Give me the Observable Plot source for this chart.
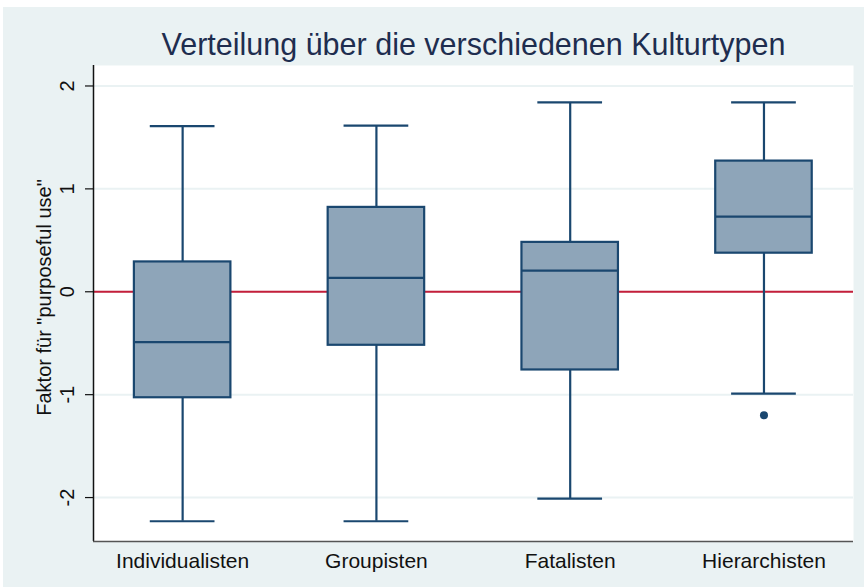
<!DOCTYPE html>
<html><head><meta charset="utf-8">
<script src="https://cdn.jsdelivr.net/npm/d3@7"></script>
<script src="https://cdn.jsdelivr.net/npm/@observablehq/plot@0.6"></script>
<style>
body{margin:0;background:#fff;}
#chart{position:absolute;left:3px;top:7px;}
</style>
</head><body><div id="chart"></div>
<script>
const title = "Verteilung über die verschiedenen Kulturtypen";
const yTitle = "Faktor für \"purposeful use\"";
const categories = ["Individualisten", "Groupisten", "Fatalisten", "Hierarchisten"];
const lowerWhisker = [-2.23, -2.23, -2.01, -0.99];
const q1 = [-1.03, -0.52, -0.76, 0.375];
const median = [-0.49, 0.135, 0.205, 0.73];
const q3 = [0.29, 0.82, 0.48, 1.27];
const upperWhisker = [1.61, 1.615, 1.84, 1.84];
const outlierCategories = ["Hierarchisten"];
const outlierValues = [-1.2];
const yTicks = [-2, -1, 0, 1, 2];

const rows = categories.map((c, i) => ({
  cat: c, pos: i + 1,
  lo: lowerWhisker[i], q1: q1[i], med: median[i], q3: q3[i], hi: upperWhisker[i]
}));
const outliers = outlierValues.map((v, i) => ({pos: categories.indexOf(outlierCategories[i]) + 1, v}));

const navy = "#1a476f";
const boxFill = "#8ea5b9";
const bg = "#eaf2f3";
const boxHalf = 0.249, capHalf = 0.167;
const xDomain = [0.54, 4.462];
const yDomain = [-2.427, 2.199];
const font = "'Liberation Sans', Arial, Helvetica, sans-serif";

const chart = Plot.plot({
  width: 861, height: 580,
  marginLeft: 90, marginRight: 11, marginTop: 58, marginBottom: 46,
  style: {background: bg, fontFamily: font, color: "#111", overflow: "visible"},
  x: {type: "linear", domain: xDomain},
  y: {type: "linear", domain: yDomain},
  marks: [
    Plot.frame({fill: "white", stroke: null}),
    Plot.ruleY(yTicks, {y: d => d, stroke: bg, strokeWidth: 2}),
    Plot.ruleY([0], {stroke: "#c41e3a", strokeWidth: 2}),
    Plot.ruleX(rows, {x: "pos", y1: "lo", y2: "q1", stroke: navy, strokeWidth: 2.2}),
    Plot.ruleX(rows, {x: "pos", y1: "q3", y2: "hi", stroke: navy, strokeWidth: 2.2}),
    Plot.ruleY(rows, {y: "lo", x1: d => d.pos - capHalf, x2: d => d.pos + capHalf, stroke: navy, strokeWidth: 2.2}),
    Plot.ruleY(rows, {y: "hi", x1: d => d.pos - capHalf, x2: d => d.pos + capHalf, stroke: navy, strokeWidth: 2.2}),
    Plot.rect(rows, {x1: d => d.pos - boxHalf, x2: d => d.pos + boxHalf, y1: "q1", y2: "q3", fill: boxFill, stroke: navy, strokeWidth: 2.2}),
    Plot.ruleY(rows, {y: "med", x1: d => d.pos - boxHalf, x2: d => d.pos + boxHalf, stroke: navy, strokeWidth: 2.2}),
    Plot.dot(outliers, {x: "pos", y: "v", r: 4, fill: navy, stroke: null}),
    Plot.ruleX([xDomain[0]], {stroke: "#111", strokeWidth: 1.5}),
    Plot.ruleY([yDomain[0]], {stroke: "#555", strokeWidth: 1.5}),
    Plot.axisY({ticks: yTicks, tickSize: 8, tickFormat: () => "", label: null, stroke: "#111", strokeWidth: 1.2}),
    Plot.text(yTicks, {y: d => d, text: d => String(d), frameAnchor: "left", dx: -26, rotate: -90,
      lineAnchor: "middle", textAnchor: "middle", fontSize: 20, fill: "#111"}),
    Plot.axisX({ticks: rows.map(r => r.pos), tickFormat: p => categories[p - 1], tickSize: 0,
      tickPadding: 12, fontSize: 21, label: null, fill: "#111"}),
    Plot.text([yTitle], {frameAnchor: "left", dx: -49, dy: -6, rotate: -90, lineAnchor: "middle",
      textAnchor: "middle", fontSize: 20, fill: "#111"}),
    Plot.text([title], {frameAnchor: "top", dy: -11, lineAnchor: "bottom", fontSize: 30.5, fill: "#1e2d4f"})
  ]
});
document.getElementById("chart").appendChild(chart);
</script>
</body></html>
